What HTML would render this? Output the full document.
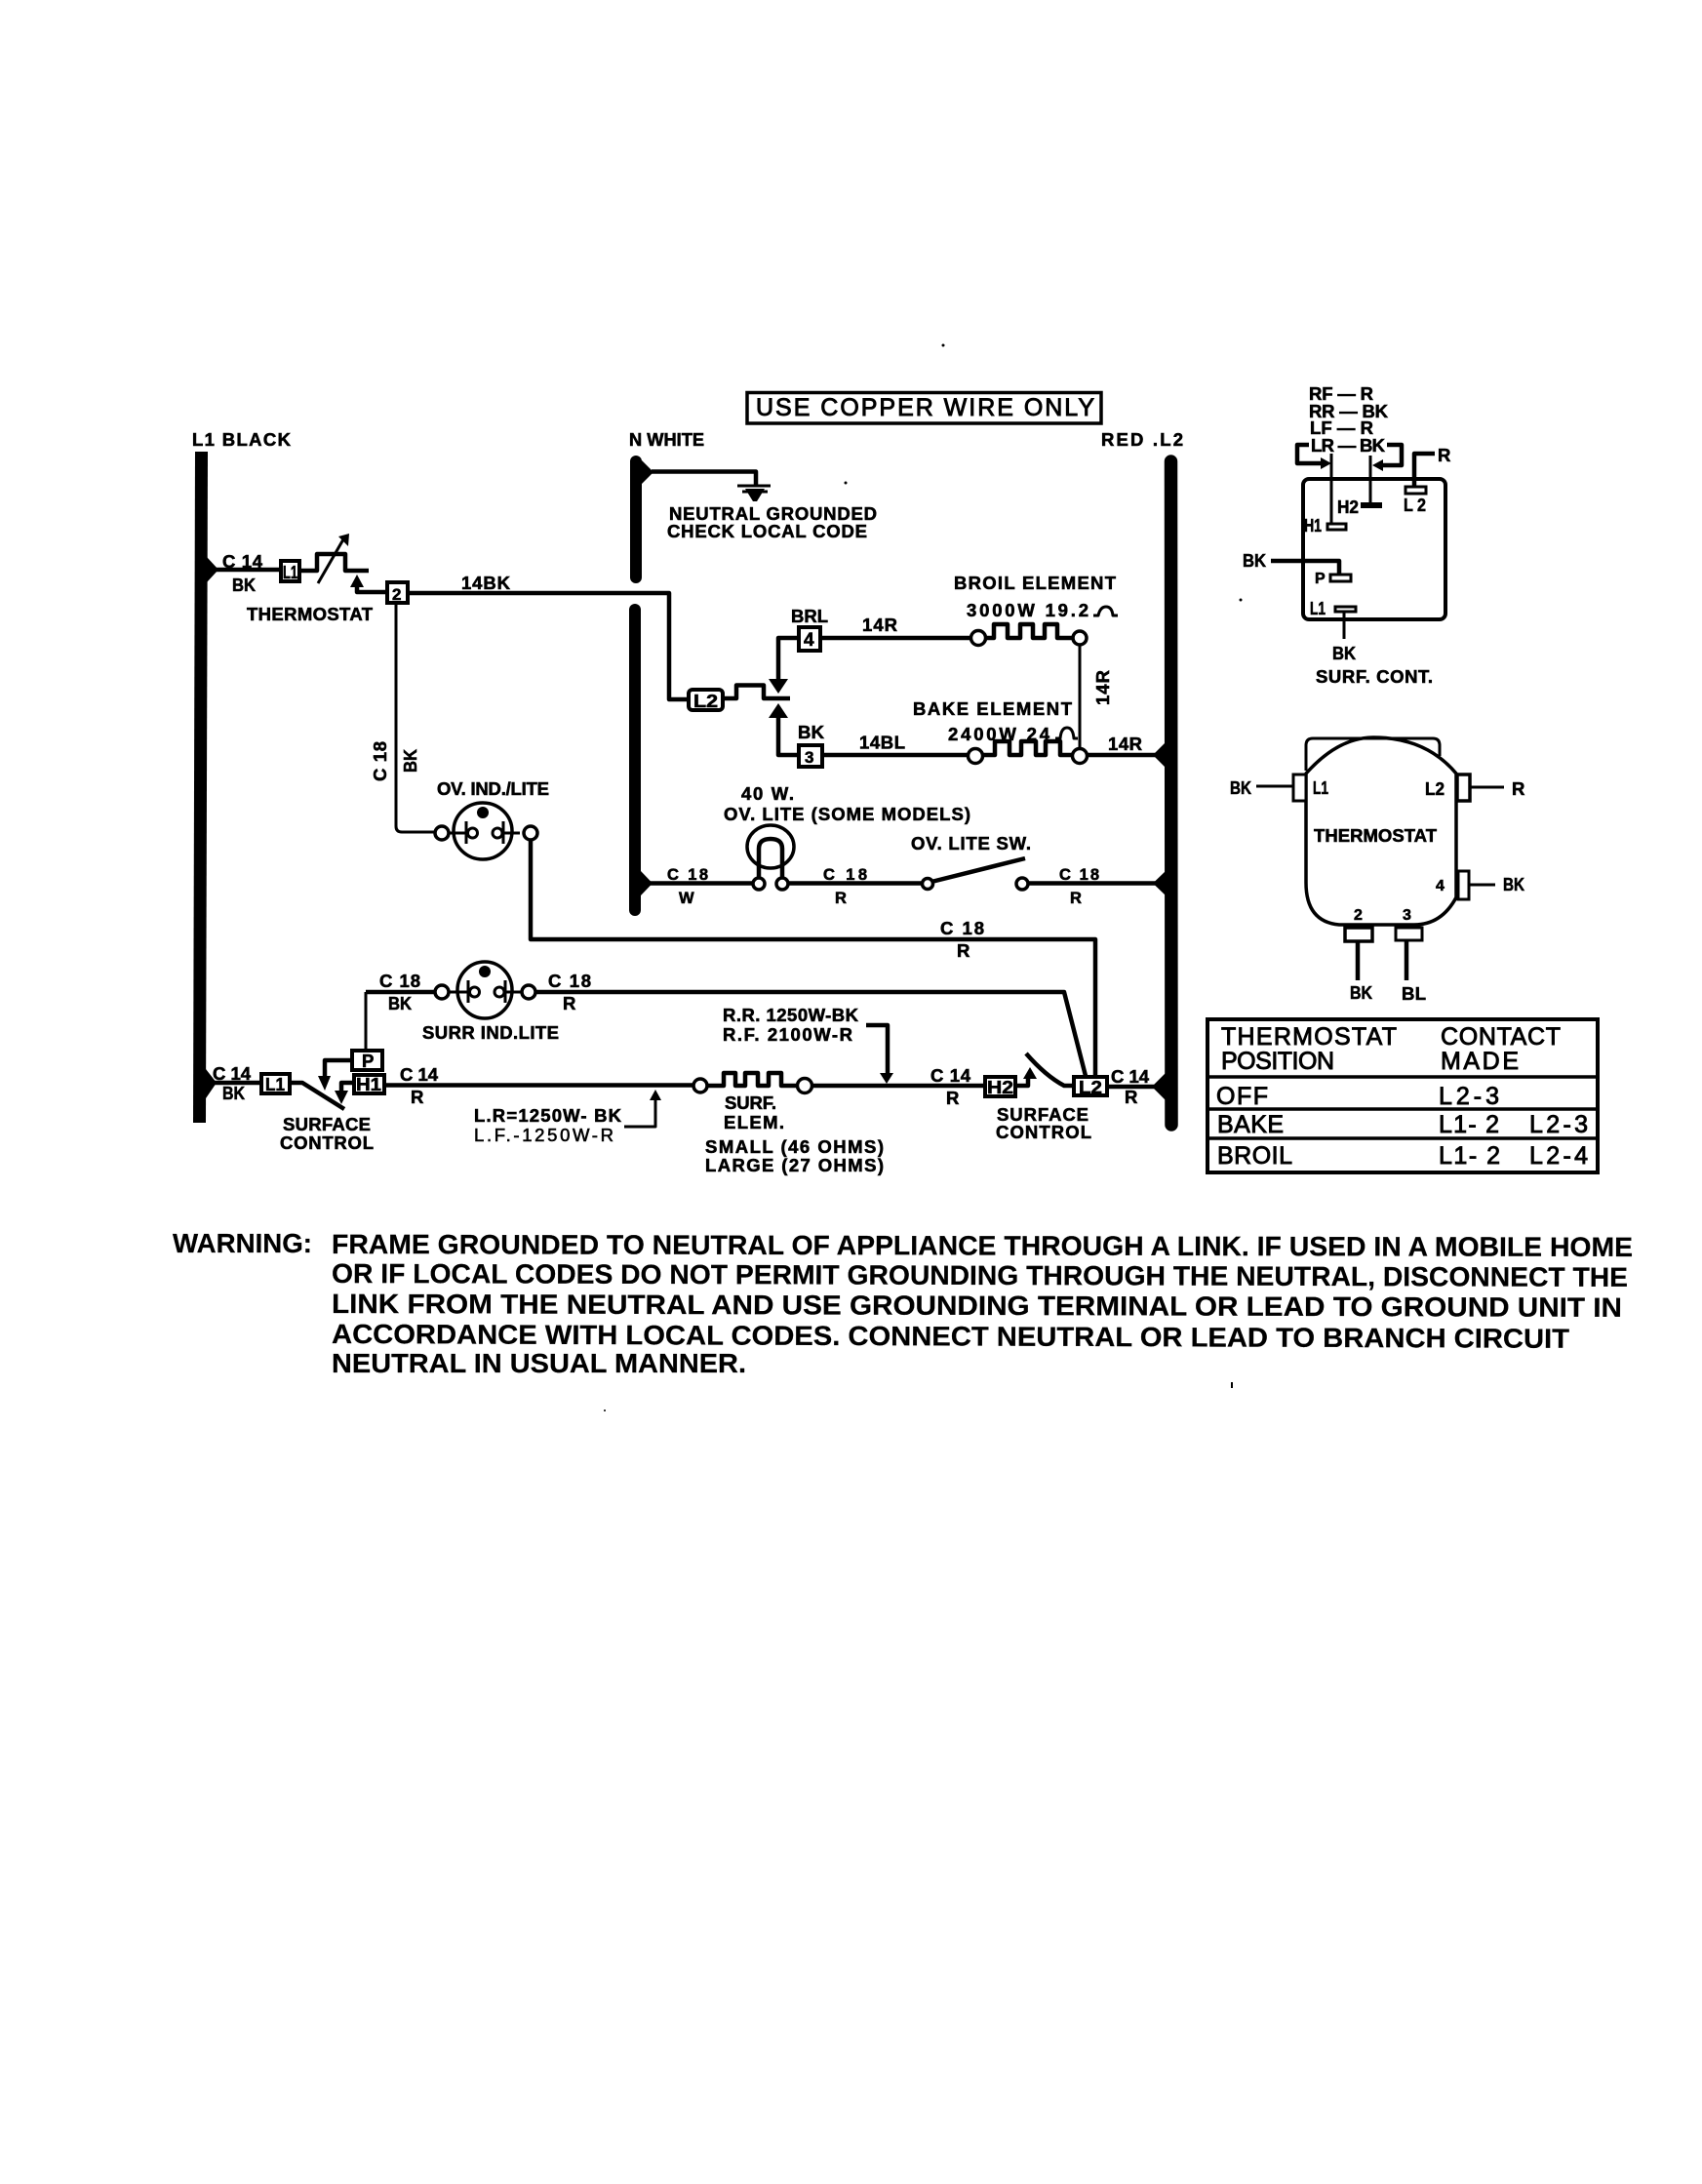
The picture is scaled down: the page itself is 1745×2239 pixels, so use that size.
<!DOCTYPE html>
<html><head><meta charset="utf-8"><title>Wiring diagram</title>
<style>
html,body{margin:0;padding:0;background:#fff}
svg{display:block;font-size:18.5px}
text{font-family:"Liberation Sans",sans-serif;font-weight:bold;fill:#000;stroke:#000;stroke-width:.6px}
.w{fill:none;stroke:#000;stroke-width:3;stroke-linejoin:round}
.t{fill:none;stroke:#000;stroke-width:4.5;stroke-linejoin:round}
.c{fill:#fff;stroke:#000;stroke-width:3.5}
.b{fill:#fff;stroke:#000;stroke-width:4}
.tb{font-size:25px}
.tb text{font-weight:normal;stroke-width:.9px}
.wn{font-size:28px}
.wn text{stroke-width:.2px}
</style></head><body>
<svg xmlns="http://www.w3.org/2000/svg" width="1745" height="2239" viewBox="0 0 1745 2239">
<rect width="1745" height="2239" fill="#fff"/>

<!-- specks -->
<circle cx="967" cy="354" r="1.5"/><circle cx="867" cy="495" r="1.5"/><circle cx="1272" cy="615" r="1.5"/><circle cx="620" cy="1446" r="1"/><rect x="1262" y="1417" width="2" height="6"/>

<!-- buses -->
<polygon points="200,463 213,463 211,1151 198,1151"/>
<line x1="652" y1="473" x2="652" y2="592" stroke="#000" stroke-width="12" stroke-linecap="round"/>
<line x1="651" y1="625" x2="651" y2="933" stroke="#000" stroke-width="12" stroke-linecap="round"/>
<line x1="1200.5" y1="473" x2="1201" y2="1153" stroke="#000" stroke-width="13.5" stroke-linecap="round"/>

<!-- bus labels -->
<text x="197" y="457" textLength="101">L1 BLACK</text>
<text x="645" y="457" textLength="77" lengthAdjust="spacingAndGlyphs">N WHITE</text>
<text x="1129" y="457" textLength="84">RED .L2</text>

<!-- copper box -->
<rect x="766" y="402.5" width="363" height="31.5" fill="#fff" stroke="#000" stroke-width="3.5"/>
<g class="tb"><text x="775" y="426" textLength="347">USE COPPER WIRE ONLY</text></g>

<!-- L1 thermostat branch -->
<polygon points="212,571 224,584 212,597"/>
<path class="t" d="M212 584H286"/>
<rect class="b" x="288" y="575" width="19" height="21"/>
<text x="290" y="593" textLength="15" lengthAdjust="spacingAndGlyphs">L1</text>
<path class="t" d="M307 585H325V568H354V585H378"/>
<path class="w" d="M326 598L352 553"/>
<polygon points="347,550 358,547 357,560"/>
<polygon points="366,589 359,602 373,602"/>
<path class="t" d="M366 602V607H396"/>
<rect class="b" x="397" y="597" width="21" height="21"/>
<text x="402" y="615" font-size="17">2</text>
<path class="t" d="M419 608H686V717H705"/>
<text x="473" y="604" textLength="50">14BK</text>
<text x="228" y="582" textLength="41">C 14</text>
<text x="238" y="606" textLength="24" lengthAdjust="spacingAndGlyphs">BK</text>
<text x="253" y="636" textLength="129">THERMOSTAT</text>

<!-- oven indicator -->
<path class="w" d="M406 619V847Q406 853 412 853H446"/>
<text transform="translate(396,801) rotate(-90)" textLength="41">C 18</text>
<text transform="translate(427,792) rotate(-90)" textLength="24" lengthAdjust="spacingAndGlyphs">BK</text>
<text x="448" y="815" textLength="115">OV. IND./LITE</text>
<g transform="translate(495,852)">
<ellipse rx="30" ry="29" fill="none" stroke="#000" stroke-width="3.5"/>
<circle cy="-19" r="6"/>
<circle cx="-10.5" cy="2" r="5" class="w"/><circle cx="15" cy="2" r="5" class="w"/>
<path class="w" d="M-37 2H-15.5M-17 -10V13M20 2H38M21 -10V13"/>
<circle class="c" cx="-42" cy="2" r="7"/><circle class="c" cx="49" cy="2" r="7"/>
</g>
<path class="t" d="M544 861V963H1123V1103"/>
<text x="964" y="958" textLength="45">C 18</text>
<text x="981" y="981">R</text>

<!-- N ground -->
<polygon points="658,472 670,484 658,496"/>
<path class="t" d="M668 483.5H775V498"/>
<path class="w" d="M756 498H790"/>
<polygon points="764,501 784,501 776,514 772,514"/>
<path class="w" d="M761 504H787"/>
<text x="686" y="533" textLength="213">NEUTRAL GROUNDED</text>
<text x="684" y="551" textLength="205">CHECK LOCAL CODE</text>

<!-- L2 thermostat contact + elements -->
<rect class="b" x="706" y="707" width="35" height="21" rx="4"/>
<text x="711" y="725" textLength="25" lengthAdjust="spacingAndGlyphs">L2</text>
<path class="t" d="M741 716H755V702.5H783V716H810"/>
<polygon points="798,711 788,696 808,696"/>
<path class="t" d="M798 696V654H818"/>
<rect class="b" x="819" y="643" width="22" height="24"/>
<text x="824" y="662" font-size="19">4</text>
<text x="811" y="638" textLength="38">BRL</text>
<text x="884" y="647" textLength="36">14R</text>
<path class="t" d="M842 654H996"/>
<circle class="c" cx="1003" cy="654" r="7.5"/>
<path class="t" d="M1010 654H1019V640H1033V654H1046V640H1059V654H1071V640H1084V654H1100"/>
<circle class="c" cx="1107" cy="654" r="7"/>
<text x="978" y="604" textLength="166">BROIL ELEMENT</text>
<text x="991" y="632" textLength="125">3000W 19.2</text>
<path class="w" d="M1121 631H1126Q1128 622 1134 622Q1140 622 1141 631H1146"/>
<path class="w" d="M1107 661V768"/>
<text transform="translate(1137,723) rotate(-90)" textLength="36">14R</text>
<text x="936" y="733" textLength="163">BAKE ELEMENT</text>
<text x="972" y="759" textLength="104">2400W 24</text>
<path class="w" d="M1082 757H1087Q1088 746 1094 746Q1100 746 1101 757H1105"/>
<polygon points="798,721 788,736 808,736"/>
<path class="t" d="M798 736V774H818"/>
<rect class="b" x="819" y="764" width="24" height="22"/>
<text x="825" y="782" font-size="17">3</text>
<text x="818" y="757" textLength="27">BK</text>
<text x="881" y="767.5" textLength="47">14BL</text>
<path class="t" d="M844 774H993"/>
<circle class="c" cx="1000" cy="775" r="7.5"/>
<path class="t" d="M1008 774H1020V760H1035V774H1047V760H1062V774H1072V760H1087V774H1100"/>
<circle class="c" cx="1107" cy="775" r="7.5"/>
<path class="t" d="M1115 774H1194"/>
<polygon points="1195,761 1182,774 1195,787"/>
<text x="1136" y="769" textLength="35">14R</text>

<!-- oven lite row -->
<text x="760" y="820" textLength="54">40 W.</text>
<text x="742" y="841" textLength="253">OV. LITE (SOME MODELS)</text>
<text x="934" y="871" textLength="123">OV. LITE SW.</text>
<ellipse cx="790" cy="868" rx="24" ry="22" fill="none" stroke="#000" stroke-width="3.5"/>
<path class="t" d="M778 899V870Q778 860 790 860Q802 860 802 870V899"/>
<circle class="c" cx="778" cy="906" r="6"/><circle class="c" cx="802" cy="906" r="6"/>
<polygon points="657,893 669,905.5 657,918"/>
<path class="t" d="M660 905.5H772M808 905.5H946"/>
<circle class="c" cx="951" cy="906" r="5.5"/>
<path class="t" d="M955 904L1051 880"/>
<circle class="c" cx="1048" cy="906" r="6"/>
<path class="t" d="M1054 905.5H1194"/>
<polygon points="1195,893 1182,905.5 1195,918"/>
<text x="684" y="902" textLength="42" font-size="16.5">C 18</text>
<text x="696" y="926" font-size="16.5" textLength="16">W</text>
<text x="844" y="902" textLength="45" font-size="16.5">C 18</text>
<text x="856" y="926" font-size="16.5">R</text>
<text x="1086" y="902" textLength="41" font-size="16.5">C 18</text>
<text x="1097" y="926" font-size="16.5">R</text>

<!-- surface section -->
<path class="w" d="M375 1075V1017"/>
<path class="t" d="M375 1017H446"/>
<g transform="translate(497,1015)">
<ellipse rx="28" ry="29" fill="none" stroke="#000" stroke-width="3.5"/>
<circle cy="-19" r="6"/>
<circle cx="-10.5" cy="2" r="5" class="w"/><circle cx="15" cy="2" r="5" class="w"/>
<path class="w" d="M-37 2H-15.5M-17 -10V13M20 2H38M21 -10V13"/>
<circle class="c" cx="-44" cy="2" r="7"/><circle class="c" cx="45" cy="2" r="7"/>
</g>
<path class="t" d="M549 1017H1091L1113 1103"/>
<text x="389" y="1012" textLength="42">C 18</text>
<text x="398" y="1035" textLength="24" lengthAdjust="spacingAndGlyphs">BK</text>
<text x="562" y="1012" textLength="44">C 18</text>
<text x="577" y="1035">R</text>
<text x="433" y="1065" textLength="140">SURR IND.LITE</text>

<polygon points="211,1096 222,1110 211,1126"/>
<path class="t" d="M215 1110H266"/>
<rect class="b" x="268" y="1101" width="29" height="20"/>
<text x="272" y="1118" textLength="20" lengthAdjust="spacingAndGlyphs">L1</text>
<path class="t" d="M298 1110H310L353 1137"/>
<rect class="b" x="361" y="1077" width="31" height="20"/>
<text x="371" y="1094">P</text>
<rect class="b" x="363" y="1102" width="31" height="19"/>
<text x="365" y="1118" textLength="26" lengthAdjust="spacingAndGlyphs">H1</text>
<path class="t" d="M360 1087H333V1103"/>
<polygon points="333,1118 326,1103 339,1103"/>
<path class="t" d="M362 1110H350V1118"/>
<polygon points="350,1132 343,1118 357,1118"/>
<text x="218" y="1107" textLength="39">C 14</text>
<text x="228" y="1127" textLength="23" lengthAdjust="spacingAndGlyphs">BK</text>
<text x="290" y="1159" textLength="90">SURFACE</text>
<text x="287" y="1178" textLength="96">CONTROL</text>
<path class="t" d="M395 1112.5H711"/>
<text x="410" y="1108" textLength="39">C 14</text>
<text x="421" y="1131">R</text>
<polygon points="672,1117 666,1128 678,1128"/>
<path class="w" d="M672 1128V1155H640"/>
<text x="486" y="1150" textLength="151">L.R=1250W- BK</text>
<text x="486" y="1170" textLength="143" style="font-weight:normal">L.F.-1250W-R</text>

<circle class="c" cx="718" cy="1113" r="7"/>
<path class="t" d="M725 1113H742V1100H754V1113H764V1100H777V1113H788V1100H801V1113H818"/>
<circle class="c" cx="825" cy="1113" r="7.5"/>
<path class="t" d="M833 1113H1009"/>
<text x="743" y="1137" textLength="53">SURF.</text>
<text x="742" y="1157" textLength="62">ELEM.</text>
<text x="723" y="1182" textLength="183">SMALL (46 OHMS)</text>
<text x="723" y="1201" textLength="183">LARGE (27 OHMS)</text>
<text x="741" y="1047" textLength="139">R.R. 1250W-BK</text>
<text x="741" y="1067" textLength="133">R.F. 2100W-R</text>
<path class="t" d="M888 1051H910V1100"/>
<polygon points="909,1111 902,1100 916,1100"/>
<text x="954" y="1109" textLength="41">C 14</text>
<text x="970" y="1132">R</text>
<rect class="b" x="1010" y="1104" width="31" height="20"/>
<text x="1012" y="1121" textLength="27" lengthAdjust="spacingAndGlyphs">H2</text>
<path class="t" d="M1042 1113H1054V1105"/>
<polygon points="1056,1094 1049,1106 1063,1106"/>
<path class="t" d="M1052 1080Q1072 1103 1091 1113H1100"/>
<rect class="b" x="1101" y="1104" width="34" height="19"/>
<text x="1106" y="1121" textLength="24" lengthAdjust="spacingAndGlyphs">L2</text>
<path class="t" d="M1136 1114H1184"/>
<polygon points="1195,1100 1181,1114 1195,1128"/>
<text x="1139" y="1110" textLength="39">C 14</text>
<text x="1153" y="1131">R</text>
<text x="1022" y="1149" textLength="94">SURFACE</text>
<text x="1021" y="1167" textLength="98">CONTROL</text>

<!-- surf cont diagram -->
<rect x="1336" y="491" width="146" height="144" rx="6" fill="none" stroke="#000" stroke-width="4"/>
<text x="1342" y="410" textLength="66">RF — R</text>
<text x="1342" y="428" textLength="81">RR — BK</text>
<text x="1343" y="445" textLength="65">LF — R</text>
<text x="1344" y="463" textLength="76">LR — BK</text>
<path class="t" d="M1342 456H1330V475H1355"/>
<polygon points="1365,475 1354,469 1354,481"/>
<path class="w" d="M1365 465V538"/>
<rect x="1361" y="537" width="19" height="6" fill="#fff" stroke="#000" stroke-width="3"/>
<text x="1337" y="545" textLength="18" lengthAdjust="spacingAndGlyphs">H1</text>
<text x="1371" y="526" textLength="22" lengthAdjust="spacingAndGlyphs">H2</text>
<path class="w" d="M1405 467V515"/>
<rect x="1395" y="515" width="22" height="6"/>
<path class="t" d="M1422 456H1437V477H1416"/>
<polygon points="1407,477 1418,471 1418,483"/>
<rect x="1441" y="499" width="21" height="7" fill="#fff" stroke="#000" stroke-width="3"/>
<path class="t" d="M1450 499V465H1471"/>
<text x="1474" y="473">R</text>
<text x="1439" y="524" textLength="23" lengthAdjust="spacingAndGlyphs">L 2</text>
<text x="1274" y="581" textLength="24" lengthAdjust="spacingAndGlyphs">BK</text>
<path class="t" d="M1303 575H1373V588"/>
<rect x="1364" y="589" width="21" height="7" fill="#fff" stroke="#000" stroke-width="3"/>
<text x="1348" y="598" font-size="16">P</text>
<text x="1343" y="630" textLength="16" lengthAdjust="spacingAndGlyphs">L1</text>
<rect x="1369" y="622" width="21" height="5" fill="#fff" stroke="#000" stroke-width="3"/>
<path class="w" d="M1378 628V655"/>
<text x="1366" y="676" textLength="24" lengthAdjust="spacingAndGlyphs">BK</text>
<text x="1349" y="700" textLength="120">SURF. CONT.</text>

<!-- thermostat diagram -->
<path class="w" d="M1339 790V764Q1339 757 1346 757H1469Q1476 757 1476 764V775"/>
<path class="w" d="M1339 793Q1372 756 1408 756Q1462 756 1493 793V920Q1478 948 1450 948H1373Q1339 945 1339 905Z" style="stroke-width:3.5"/>
<rect x="1326" y="794" width="13" height="27" fill="#fff" stroke="#000" stroke-width="3"/>
<rect x="1494" y="794" width="13" height="27" fill="#fff" stroke="#000" stroke-width="3.5"/>
<rect x="1495" y="893" width="11" height="29" fill="#fff" stroke="#000" stroke-width="3"/>
<rect x="1379" y="951" width="28" height="14" fill="#fff" stroke="#000" stroke-width="3.5"/>
<rect x="1431" y="951" width="27" height="13" fill="#fff" stroke="#000" stroke-width="3"/>
<path class="w" d="M1288 806H1325M1508 807H1542M1506 907H1533"/>
<path class="t" d="M1392 966V1005M1442 965V1005"/>
<text x="1261" y="814" textLength="22" lengthAdjust="spacingAndGlyphs">BK</text>
<text x="1346" y="814" textLength="16" lengthAdjust="spacingAndGlyphs">L1</text>
<text x="1461" y="815" textLength="20" lengthAdjust="spacingAndGlyphs">L2</text>
<text x="1550" y="815">R</text>
<text x="1347" y="863" textLength="126">THERMOSTAT</text>
<text x="1472" y="913" font-size="16">4</text>
<text x="1541" y="913" textLength="22" lengthAdjust="spacingAndGlyphs">BK</text>
<text x="1388" y="943" font-size="16">2</text>
<text x="1438" y="943" font-size="16">3</text>
<text x="1384" y="1024" textLength="23" lengthAdjust="spacingAndGlyphs">BK</text>
<text x="1437" y="1025" textLength="25">BL</text>

<!-- table -->
<rect x="1238" y="1045" width="400" height="157" fill="none" stroke="#000" stroke-width="4"/>
<path class="t" d="M1238 1104H1639M1238 1137H1639M1238 1167H1639" style="stroke-width:3.5"/>
<g class="tb">
<text x="1252" y="1071" textLength="180">THERMOSTAT</text>
<text x="1252" y="1096" textLength="116">POSITION</text>
<text x="1477" y="1071" textLength="123">CONTACT</text>
<text x="1477" y="1096" textLength="80">MADE</text>
<text x="1247" y="1132" textLength="53">OFF</text>
<text x="1475" y="1132" textLength="62">L2-3</text>
<text x="1248" y="1161" textLength="68">BAKE</text>
<text x="1475" y="1161" textLength="62">L1- 2</text>
<text x="1568" y="1161" textLength="60">L2-3</text>
<text x="1248" y="1193" textLength="77">BROIL</text>
<text x="1475" y="1193" textLength="63">L1- 2</text>
<text x="1568" y="1193" textLength="60">L2-4</text>
</g>

<!-- warning -->
<g class="wn">
<text x="177" y="1284" textLength="143" lengthAdjust="spacingAndGlyphs">WARNING:</text>
<text x="340" y="1285" textLength="1334" transform="rotate(.13 340 1285)" lengthAdjust="spacingAndGlyphs">FRAME GROUNDED TO NEUTRAL OF APPLIANCE THROUGH A LINK. IF USED IN A MOBILE HOME</text>
<text x="340" y="1315" textLength="1329" transform="rotate(.17 340 1315)" lengthAdjust="spacingAndGlyphs">OR IF LOCAL CODES DO NOT PERMIT GROUNDING THROUGH THE NEUTRAL, DISCONNECT THE</text>
<text x="340" y="1346" textLength="1323" transform="rotate(.17 340 1346)" lengthAdjust="spacingAndGlyphs">LINK FROM THE NEUTRAL AND USE GROUNDING TERMINAL OR LEAD TO GROUND UNIT IN</text>
<text x="340" y="1377" textLength="1269" transform="rotate(.22 340 1377)" lengthAdjust="spacingAndGlyphs">ACCORDANCE WITH LOCAL CODES. CONNECT NEUTRAL OR LEAD TO BRANCH CIRCUIT</text>
<text x="340" y="1407" textLength="425" lengthAdjust="spacingAndGlyphs">NEUTRAL IN USUAL MANNER.</text>
</g>
</svg>
</body></html>
